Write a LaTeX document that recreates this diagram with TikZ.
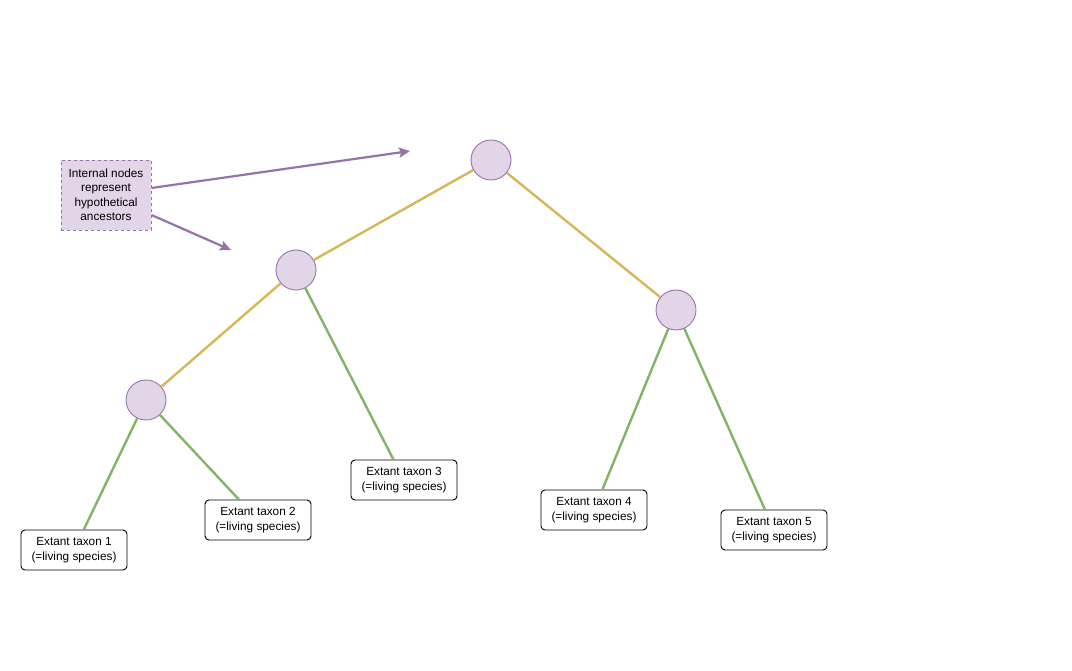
\documentclass[tikz,border=0pt]{standalone}
\usepackage{fontspec}
\setmainfont{Liberation Sans}
\usetikzlibrary{arrows.meta}
\definecolor{pfill}{HTML}{E1D5E7}
\definecolor{pdraw}{HTML}{9673A6}
\definecolor{ybr}{HTML}{D6B656}
\definecolor{gbr}{HTML}{82B366}
\tikzset{
  anc/.style={circle,draw=pdraw,fill=pfill,line width=0.9pt,minimum size=40pt,inner sep=0pt},
  taxon/.style={draw=black,fill=white,rounded corners=4pt,line width=0.9pt,minimum width=106pt,minimum height=40pt,inner sep=0pt,align=center,font=\fontsize{11.8pt}{15pt}\selectfont},
  note/.style={draw=pdraw,fill=pfill,dashed,line width=0.9pt,minimum width=90pt,minimum height=70pt,inner sep=0pt,align=center,font=\fontsize{11.8pt}{14.5pt}\selectfont},
  ybranch/.style={draw=ybr,line width=2.4pt},
  gbranch/.style={draw=gbr,line width=2.4pt},
  parrow/.style={draw=pdraw,line width=2.2pt,-{Stealth[length=11pt,width=10pt,inset=2pt]}}
}
\begin{document}
\begin{tikzpicture}[x=1pt,y=-1pt]
\useasboundingbox (0,0) rectangle (1072,671);
\node[anc] (root) at (491,160) {};
\node[anc] (n2) at (296,270) {};
\node[anc] (nr) at (676,310) {};
\node[anc] (nl) at (146,400) {};
\node[taxon] (t1) at (74,550) {Extant taxon 1\\(=living species)};
\node[taxon] (t2) at (258,520) {Extant taxon 2\\(=living species)};
\node[taxon] (t3) at (404,480) {Extant taxon 3\\(=living species)};
\node[taxon] (t4) at (594,510) {Extant taxon 4\\(=living species)};
\node[taxon] (t5) at (774,530) {Extant taxon 5\\(=living species)};
\node[note] (note) at (106,195) {Internal nodes\\represent\\hypothetical\\ancestors};
\coordinate (a1) at (410,151);
\coordinate (a2) at (231,250);
\path[ybranch] (root) -- (n2);
\path[ybranch] (root) -- (nr);
\path[ybranch] (n2) -- (nl);
\path[gbranch] (nl) -- (t1);
\path[gbranch] (nl) -- (t2);
\path[gbranch] (n2) -- (t3);
\path[gbranch] (nr) -- (t4);
\path[gbranch] (nr) -- (t5);
\path[parrow] (note.east |- 0,188) -- (a1);
\path[parrow] (note.east |- 0,215) -- (a2);
\end{tikzpicture}
\end{document}
